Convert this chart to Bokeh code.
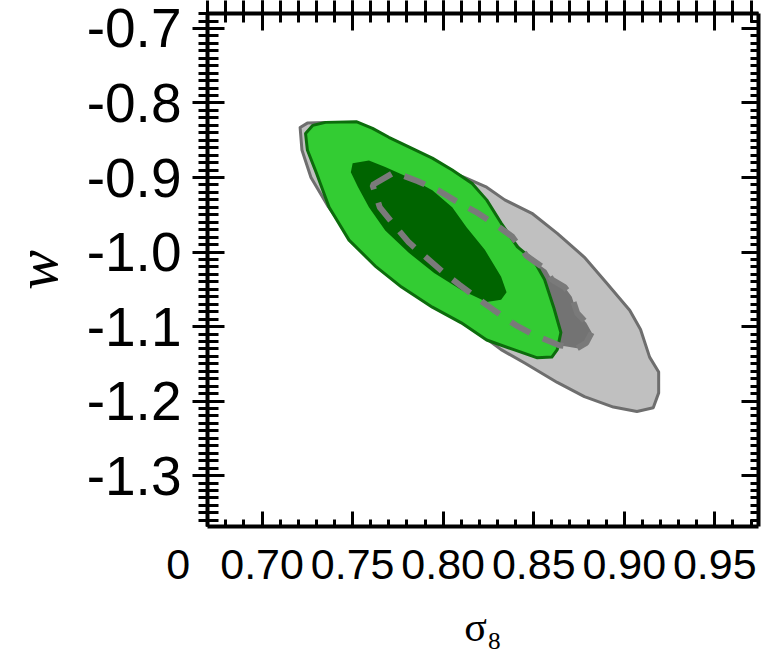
from bokeh.plotting import figure
from bokeh.models import LinearAxis, FixedTicker, Range1d
from bokeh.embed import file_html
from bokeh.resources import INLINE

# ---- axis ticks / labels ----
x_major = [0.70, 0.75, 0.80, 0.85, 0.90, 0.95]
x_labels = ["0.70", "0.75", "0.80", "0.85", "0.90", "0.95"]
y_major = [-0.7, -0.8, -0.9, -1.0, -1.1, -1.2, -1.3]
y_labels = ["-0.7", "-0.8", "-0.9", "-1.0", "-1.1", "-1.2", "-1.3"]
x_minor = [round(0.67 + 0.01 * i, 2) for i in range(31)]
y_minor = [round(-1.37 + 0.01 * i, 2) for i in range(70)]
# stray "0" label printed at the left end of the sigma8 axis
stray_tick = 0.6701
stray_label = "0" + "\u00a0" * 5

# ---- contours (sigma8, w) ----
gray_outer_x = [0.721, 0.725, 0.735, 0.752, 0.765, 0.773, 0.786, 0.799, 0.812, 0.824,
                0.834, 0.849, 0.863, 0.878, 0.890, 0.903, 0.909, 0.914, 0.919, 0.919,
                0.916, 0.907, 0.894, 0.878, 0.863, 0.845, 0.832, 0.821, 0.806, 0.790,
                0.773, 0.758, 0.745, 0.736, 0.727, 0.722]
gray_outer_y = [-0.833, -0.827, -0.826, -0.830, -0.846, -0.859, -0.873, -0.887, -0.900, -0.913,
                -0.930, -0.948, -0.975, -1.007, -1.041, -1.078, -1.104, -1.141, -1.161, -1.189,
                -1.209, -1.214, -1.208, -1.194, -1.175, -1.149, -1.131, -1.111, -1.088, -1.063,
                -1.035, -1.004, -0.968, -0.937, -0.900, -0.863]

gray_inner_x = [0.761, 0.773, 0.786, 0.797, 0.808, 0.818, 0.830, 0.838, 0.846, 0.857,
                0.860, 0.867, 0.871, 0.874, 0.879, 0.882, 0.879, 0.874, 0.864, 0.850,
                0.840, 0.828, 0.820, 0.809, 0.800, 0.789, 0.781, 0.772, 0.765]
gray_inner_y = [-0.910, -0.893, -0.905, -0.917, -0.933, -0.946, -0.965, -0.979, -1.005, -1.024,
                -1.037, -1.047, -1.060, -1.082, -1.095, -1.108, -1.122, -1.129, -1.125, -1.111,
                -1.098, -1.078, -1.064, -1.044, -1.027, -1.004, -0.987, -0.961, -0.940]

green_outer_x = [0.724, 0.728, 0.735, 0.752, 0.761, 0.770, 0.781, 0.794, 0.805, 0.816,
                 0.824, 0.832, 0.841, 0.850, 0.856, 0.861, 0.865, 0.863, 0.860, 0.852,
                 0.839, 0.824, 0.810, 0.794, 0.777, 0.763, 0.748, 0.737, 0.730, 0.725]
green_outer_y = [-0.841, -0.830, -0.826, -0.825, -0.834, -0.846, -0.859, -0.874, -0.890, -0.908,
                 -0.930, -0.961, -0.993, -1.011, -1.037, -1.074, -1.108, -1.131, -1.141, -1.142,
                 -1.131, -1.118, -1.095, -1.074, -1.047, -1.020, -0.984, -0.940, -0.894, -0.863]

green_inner_x = [0.750, 0.759, 0.768, 0.781, 0.794, 0.805, 0.813, 0.823, 0.832, 0.835,
                 0.832, 0.824, 0.810, 0.795, 0.781, 0.768, 0.759, 0.753, 0.749]
green_inner_y = [-0.881, -0.877, -0.886, -0.900, -0.917, -0.940, -0.967, -0.997, -1.033, -1.054,
                 -1.064, -1.067, -1.051, -1.028, -1.001, -0.971, -0.940, -0.913, -0.893]

p = figure(width=763, height=652, output_backend="svg", toolbar_location=None,
           x_range=Range1d(0.66985, 0.97413), y_range=Range1d(-1.3683, -0.6799),
           x_axis_location=None, y_axis_location=None,
           min_border_left=203, min_border_right=5, min_border_top=13, min_border_bottom=125)
p.grid.visible = False
p.outline_line_color = None
p.background_fill_color = "white"
p.border_fill_color = "white"

xt_bottom = FixedTicker(ticks=[stray_tick] + x_major, minor_ticks=x_minor)
xt = FixedTicker(ticks=x_major, minor_ticks=x_minor)
yt = FixedTicker(ticks=y_major, minor_ticks=y_minor)


def style(ax, mi_in, mi_out, ma_in, ma_out):
    ax.axis_line_width = 4
    ax.axis_line_color = "black"
    ax.major_tick_line_width = 3
    ax.minor_tick_line_width = 3
    ax.major_tick_line_color = "black"
    ax.minor_tick_line_color = "black"
    ax.major_tick_in = ma_in
    ax.major_tick_out = ma_out
    ax.minor_tick_in = mi_in
    ax.minor_tick_out = mi_out
    ax.major_label_text_color = "black"
    ax.axis_label_text_color = "black"


bottom_over = dict(zip(x_major, x_labels))
bottom_over[stray_tick] = stray_label
bottom = LinearAxis(ticker=xt_bottom, major_label_overrides=bottom_over, axis_label="σ₈")
style(bottom, 7, 0, 15, 0)
bottom.major_label_text_font = "Liberation Sans"
bottom.major_label_text_font_size = "43px"
bottom.major_label_standoff = 13
bottom.axis_label_text_font = "Liberation Serif"
bottom.axis_label_text_font_style = "normal"
bottom.axis_label_text_font_size = "42px"
bottom.axis_label_standoff = 13
p.add_layout(bottom, "below")

left = LinearAxis(ticker=yt, major_label_overrides=dict(zip(y_major, y_labels)),
                  axis_label="w")
style(left, 11, 9, 17, 15)
left.major_label_text_font = "Liberation Sans"
left.major_label_text_font_size = "55px"
left.major_label_standoff = 11
left.axis_label_text_font = "Liberation Serif"
left.axis_label_text_font_style = "italic"
left.axis_label_text_font_size = "60px"
left.axis_label_text_baseline = "top"
left.axis_label_standoff = 14
p.add_layout(left, "left")

top = LinearAxis(ticker=xt, major_label_overrides={v: "" for v in x_major})
style(top, 9, 13, 17, 13)
top.major_label_text_font_size = "0px"
top.major_label_standoff = 0
p.add_layout(top, "above")

right = LinearAxis(ticker=yt, major_label_overrides={v: "" for v in y_major})
style(right, 8, 0, 17, 0)
right.major_label_text_font_size = "0px"
right.major_label_standoff = 0
p.add_layout(right, "right")

# contours
p.patch(gray_outer_x, gray_outer_y, fill_color="#c0c0c0", line_color="#6e6e6e",
        line_width=3, line_join="round")
p.patch(gray_inner_x, gray_inner_y, fill_color="#737373", line_color=None)
p.patch(green_outer_x, green_outer_y, fill_color="#33cc33", line_color="#0c6c0c",
        line_width=3, line_join="round")
p.patch(green_inner_x, green_inner_y, fill_color="#006400", line_color=None)
p.patch(gray_inner_x, gray_inner_y, fill_color=None, line_color="#7a7a7a",
        line_width=6, line_dash="22 14")

open("out.html", "w").write(file_html(p, INLINE))
